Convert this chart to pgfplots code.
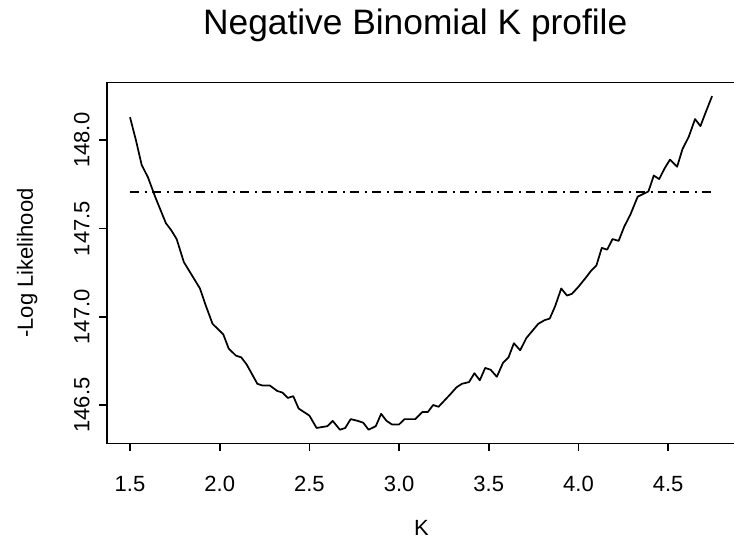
\documentclass[border=0pt]{standalone}
\usepackage{fontspec}
\setmainfont{Liberation Sans}
\usepackage{pgfplots}
\pgfplotsset{compat=1.18}
\begin{document}
\begin{tikzpicture}
\begin{axis}[
  at={(80.025pt,77.025pt)}, anchor=south west,
  scale only axis, width=472.2pt, height=270.45pt,
  xmin=1.37, xmax=4.88, ymin=146.283, ymax=148.326,
  axis line style={line width=1.2pt},
  xtick={1.5,2.0,2.5,3.0,3.5,4.0,4.5},
  ytick={146.5,147.0,147.5,148.0},
  xtick pos=bottom, ytick pos=left,
  tick align=outside, major tick length=5.6pt,
  tick style={line width=1.2pt, black},
  /pgf/number format/assume math mode=true,
  /pgf/number format/fixed, /pgf/number format/fixed zerofill,
  /pgf/number format/precision=1,
  ticklabel style={font=\fontsize{16.5}{19}\selectfont},
  xticklabel style={anchor=base, yshift=-36.3pt+5.6pt},
  yticklabel style={xshift=-13.05pt+5.6pt, rotate=90, anchor=base},
  clip=false,
]
\addplot[black, line width=1.3pt, line join=round] coordinates {
(1.500,148.13) (1.533,148.00) (1.565,147.86) (1.600,147.79) (1.640,147.68)
(1.700,147.53) (1.730,147.49) (1.760,147.44) (1.800,147.31) (1.830,147.26)
(1.890,147.16) (1.920,147.07) (1.960,146.96) (2.020,146.90) (2.050,146.82)
(2.090,146.78) (2.120,146.77) (2.150,146.73) (2.210,146.62) (2.240,146.61)
(2.280,146.61) (2.320,146.58) (2.350,146.57) (2.380,146.54) (2.410,146.55)
(2.440,146.48) (2.500,146.44) (2.540,146.37) (2.600,146.38) (2.630,146.41)
(2.670,146.36) (2.700,146.37) (2.730,146.42) (2.770,146.41) (2.800,146.40)
(2.830,146.36) (2.870,146.38) (2.900,146.45) (2.930,146.41) (2.960,146.39)
(3.000,146.39) (3.030,146.42) (3.090,146.42) (3.130,146.46) (3.160,146.46)
(3.190,146.50) (3.220,146.49) (3.285,146.56) (3.320,146.60) (3.350,146.62)
(3.390,146.63) (3.420,146.68) (3.450,146.64) (3.480,146.71) (3.510,146.70)
(3.545,146.66) (3.580,146.74) (3.610,146.77) (3.640,146.85) (3.675,146.81)
(3.710,146.88) (3.776,146.96) (3.810,146.98) (3.840,146.99) (3.870,147.06)
(3.904,147.16) (3.936,147.12) (3.964,147.13) (4.000,147.17) (4.040,147.22)
(4.070,147.26) (4.100,147.29) (4.130,147.39) (4.160,147.38) (4.190,147.44)
(4.224,147.43) (4.255,147.51) (4.290,147.58) (4.330,147.68) (4.350,147.69)
(4.390,147.71) (4.420,147.80) (4.450,147.78) (4.480,147.84) (4.510,147.89)
(4.550,147.85) (4.580,147.95) (4.615,148.02) (4.650,148.12) (4.680,148.08)
(4.710,148.16) (4.745,148.25)
};
\addplot[black, line width=1.3pt, dash pattern=on 7pt off 4pt on 1.5pt off 4pt] coordinates {
(1.5,147.707) (4.75,147.707)
};
\node[anchor=base, font=\fontsize{26.5}{31}\selectfont] at ([yshift=35.8pt]axis description cs:0.49,1) {Negative Binomial K profile};
\node[anchor=base, font=\fontsize{16.5}{19}\selectfont] at ([yshift=-69.5pt]axis description cs:0.5,0) {K};
\node[rotate=90, anchor=base, font=\fontsize{16.5}{19}\selectfont] at ([xshift=-55.3pt]axis description cs:0,0.5) {-Log Likelihood};
\end{axis}
\pgfresetboundingbox
\path[use as bounding box] (0pt,0pt) rectangle (550.5pt,409.5pt);
\end{tikzpicture}
\end{document}
